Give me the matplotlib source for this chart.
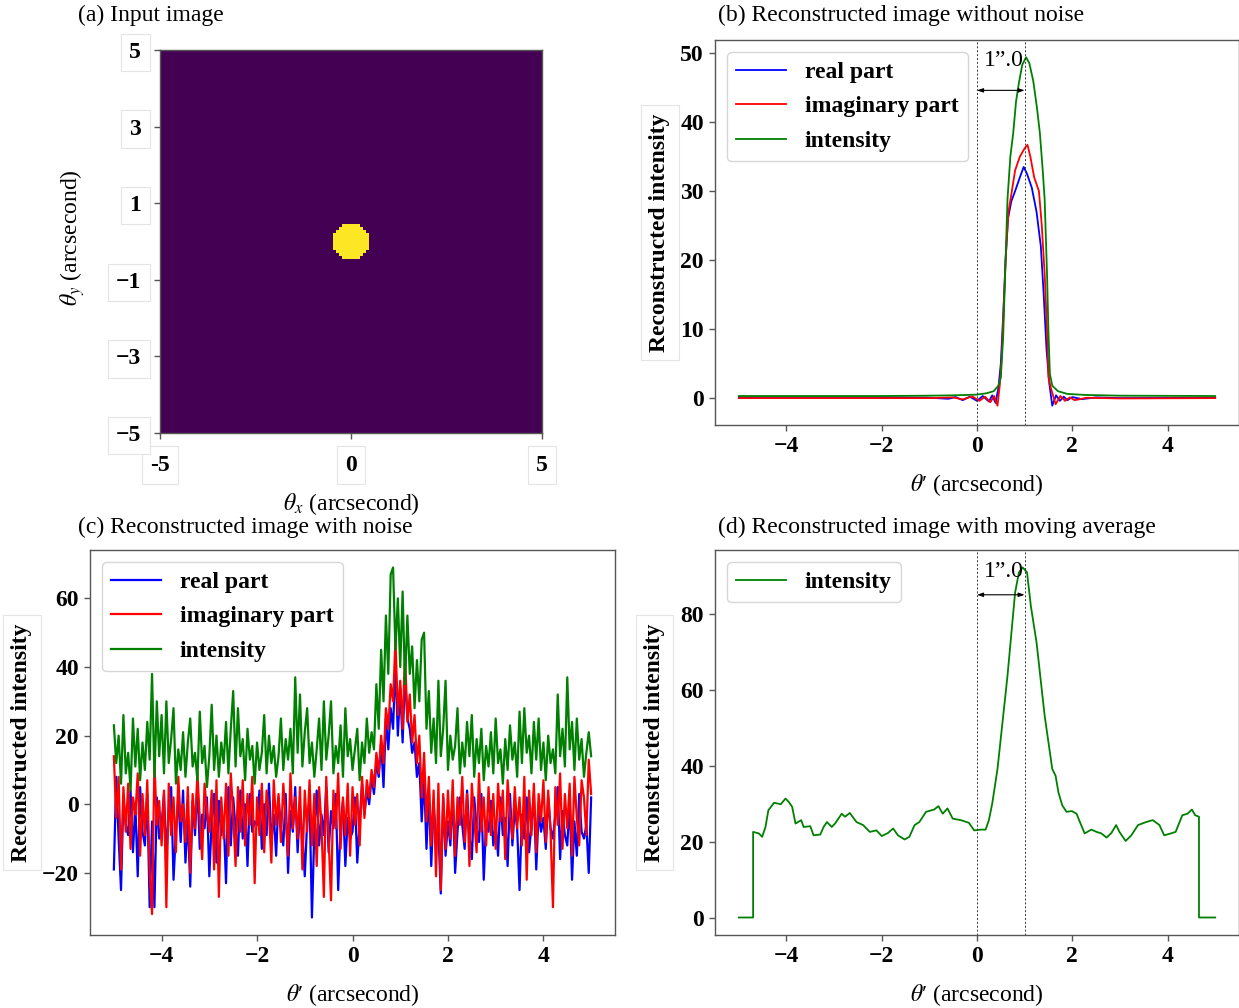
import numpy as np
import matplotlib
matplotlib.use("Agg")
import matplotlib.pyplot as plt

plt.rcParams['font.family'] = ['Liberation Serif', 'DejaVu Serif']
plt.rcParams['mathtext.fontset'] = 'stix'

# ---------------- data ----------------
# (a) input image: uniform disc source
grid_n = 128
src_center = (0.0, 0.0)      # arcsec
src_radius = 0.5             # arcsec
img_extent = [-5, 5, -5, 5]

# (b) reconstruction without noise
b_real_x = [-5.0, -2.0, -1.0, -0.6, -0.45, -0.3, -0.15, 0.0, 0.12, 0.25, 0.32, 0.39, 0.45, 0.5, 0.55,
            0.6, 0.65, 0.72, 0.8, 0.9, 0.98, 1.05, 1.15, 1.25, 1.34, 1.4, 1.46, 1.52, 1.58, 1.66,
            1.74, 1.82, 1.9, 2.0, 2.2, 2.5, 3.0, 5.0]
b_real_y = [0.1, 0.1, 0.05, -0.1, 0.15, -0.3, 0.2, -0.4, 0.3, -0.5, 0.4, -0.7, 1.5, 5, 12,
            20, 26, 28.5, 30, 32, 33.5, 32.5, 30.5, 27, 22, 15, 7, 2, -1.1, 0.4,
            -0.4, 0.2, -0.3, 0.15, -0.15, 0.1, 0.0, 0.05]
b_imag_x = [-5.0, -2.0, -1.0, -0.5, -0.3, -0.1, 0.05, 0.17, 0.28, 0.36, 0.43, 0.48, 0.52, 0.56, 0.6,
            0.66, 0.72, 0.8, 0.9, 1.0, 1.06, 1.12, 1.2, 1.3, 1.36, 1.42, 1.48, 1.5, 1.55, 1.65,
            1.75, 1.85, 1.95, 2.05, 2.3, 3.0, 5.0]
b_imag_y = [0.0, 0.0, 0.0, 0.1, -0.2, 0.25, -0.4, 0.2, -0.6, 0.3, -1.1, 2, 6, 13, 20,
            27, 29.5, 33, 35, 36.2, 36.7, 35, 32, 30, 25, 18, 8, 3, 1.5, -0.9,
            0.3, -0.4, 0.1, -0.3, 0.05, -0.05, 0.0]
b_int_x = [-5.0, -2.0, -1.0, -0.5, 0.0, 0.2, 0.35, 0.45, 0.5, 0.55, 0.6, 0.64, 0.7, 0.76, 0.82,
           0.88, 0.95, 1.03, 1.1, 1.18, 1.26, 1.32, 1.38, 1.42, 1.47, 1.5, 1.53, 1.58, 1.7, 1.9,
           2.3, 3.0, 5.0]
b_int_y = [0.3, 0.3, 0.35, 0.4, 0.5, 0.7, 1.0, 1.8, 3, 9, 20, 28.8, 35, 38.4, 43,
           45.7, 48.3, 49.4, 48.5, 46, 42, 38.4, 33, 28.8, 18, 9.5, 3.5, 1.8, 1.0, 0.6,
           0.45, 0.35, 0.3]

# (c) reconstruction with noise, sampled every 0.05 arcsec from -5 to 5
c_theta = np.linspace(-5, 5, 201)
c_real = [-19, 8, -10, -25, 2, -6, -9, 4, -14, 0, -21, 5, -8, -12, 3, -30, -5, -30, 2, -10,
          -6, 3, -15, -2, 5, -22, -8, 2, -11, 4, -17, -4, -24, 1, -9, 6, -13, -3, -7, 2,
          -21, -5, 3, -17, 1, -9, -4, -23, 5, -12, 2, -7, -15, 4, -10, 0, -18, 3, -8, -5,
          -6, 4, -13, 0, -9, 6, -11, -3, -15, 2, -7, -12, 3, -20, -2, -8, 5, -14, -1, -9,
          -21, -5, 2, -33, -8, 4, -12, -3, -9, 5, -14, -2, -7, 3, -25, -6, 1, -18, -4, -10,
          -8, 2, -17, -5, 6, -3, 4, 0, 8, 3, 12, 8, 18, 5, 25, 16, 28, 22, 42, 20,
          34, 18, 38, 25, 22, 15, 18, 8, 12, -5, 8, -13, 4, -18, 0, -10, -8, -26, 2, -15,
          -5, -12, 3, -20, -8, 2, -6, -13, 4, -9, -16, 2, -7, -11, 3, -22, -5, -8, 1, -12,
          -6, -15, 2, -9, -4, -18, 3, -12, -1, -7, -25, -3, -10, 2, -14, -6, 3, -19, -2, -8,
          -4, -13, 2, -7, -10, -3, 5, -16, -2, -9, -12, 1, -22, -5, -15, 3, -8, -10, -6, -20,
          2]
c_imag = [14, -4, 8, -19, 5, -8, 6, -13, 2, -3, 9, -15, 3, -9, 7, -20, -32, 12, -6, 1,
          -12, 4, -30, 6, -9, 2, -14, 8, -5, 0, -11, 5, -20, 3, -7, 9, -4, -16, 6, -2,
          -8, 4, -19, 7, -27, 2, -10, 6, -15, 9, -3, -18, 5, -8, 7, -12, 3, -6, 8, -23,
          2, -9, 6, -14, 4, -2, -17, 7, -6, 3, -11, 6, -4, -15, 9, -7, 2, -10, 5, -19,
          4, -8, 7, -12, 3, -18, 5, -6, -27, 8, -10, -28, 4, -7, 9, -13, 2, -9, 6, -15,
          5, -6, 3, -12, 8, -4, 7, 2, 10, 5, 15, 9, 20, 12, 28, 22, 35, 30, 48, 26,
          36, 22, 44, 24, 32, 18, 26, 12, 20, 2, 15, -5, 8, -12, 4, -21, 6, -25, 3, -13,
          4, -10, 7, -15, 2, -6, 8, -11, 3, -18, 6, -4, -14, 9, -8, 2, -12, 5, -9, 3,
          -13, 6, -5, 4, -16, 7, -3, -10, 5, -7, 2, -12, 8, -22, 4, -9, 6, -14, 3, -5,
          7, -11, 4, -8, -30, 5, -6, 9, -13, 3, -7, 6, -15, 8, -4, -12, 7, 2, -9, 13,
          3]
c_int = [23, 12, 20, 6, 26, 9, 15, 4, 25, 11, 22, 7, 18, 10, 24, 13, 38, 8, 30, 14,
         26, 9, 30, 12, 19, 28, 6, 16, 10, 21, 8, 18, 25, 11, 15, 7, 27, 12, 17, 5,
         14, 29, 10, 20, 8, 18, 12, 24, 9, 22, 33, 11, 28, 14, 19, 7, 22, 13, 17, 6,
         18, 10, 15, 26, 9, 20, 12, 17, 8, 14, 25, 10, 19, 13, 22, 9, 37, 15, 32, 11,
         21, 28, 12, 18, 8, 16, 25, 10, 30, 13, 20, 30, 9, 17, 12, 23, 8, 28, 14, 19,
         10, 16, 22, 7, 18, 12, 25, 15, 21, 16, 35, 22, 45, 30, 55, 38, 67, 69, 45, 60,
         40, 62, 35, 55, 38, 46, 28, 42, 30, 48, 50, 22, 33, 15, 25, 12, 36, 14, 22, 36,
         10, 20, 13, 17, 28, 9, 18, 11, 24, 14, 26, 8, 19, 12, 22, 7, 17, 11, 21, 9,
         25, 12, 16, 6, 19, 10, 23, 13, 18, 8, 27, 12, 28, 15, 20, 9, 24, 13, 25, 10,
         18, 7, 20, 12, 16, 9, 32, 14, 22, 11, 37, 16, 24, 10, 25, 13, 19, 8, 15, 21,
         14]

# (d) moving average of the noisy intensity
d_x = [-5.0, -4.70, -4.70, -4.58, -4.51, -4.44, -4.38, -4.26, -4.12, -4.02, -3.95, -3.88, -3.81,
       -3.69, -3.64, -3.50, -3.43, -3.29, -3.22, -3.15, -3.05, -2.98, -2.84, -2.77, -2.67, -2.53,
       -2.39, -2.25, -2.11, -2.00, -1.87, -1.76, -1.66, -1.52, -1.42, -1.31, -1.21, -1.07, -0.90,
       -0.81, -0.72, -0.62, -0.51, -0.34, -0.17, -0.06, 0.08, 0.18, 0.25, 0.32, 0.43, 0.64, 0.80,
       0.88, 0.96, 1.05, 1.13, 1.25, 1.42, 1.58, 1.65, 1.71, 1.79, 1.88, 1.99, 2.09, 2.16, 2.26,
       2.40, 2.51, 2.61, 2.72, 2.82, 2.92, 2.99, 3.12, 3.24, 3.38, 3.55, 3.69, 3.83, 3.93, 4.07,
       4.17, 4.31, 4.42, 4.51, 4.58, 4.66, 4.66, 5.0]
d_y = [0, 0, 22.6, 22.2, 21.3, 23.9, 28.3, 30.3, 29.9, 31.4, 30.5, 29.2, 24.8,
       25.7, 23.9, 24.1, 21.7, 21.9, 23.9, 25.2, 23.9, 24.8, 27.4, 26.6, 27.6, 25.2,
       24.4, 22.6, 23.0, 21.5, 22.3, 23.5, 21.7, 20.6, 21.3, 24.4, 25.2, 27.9, 28.5,
       29.4, 27.4, 28.8, 26.1, 25.7, 25.0, 23.0, 23.2, 23.2, 25.7, 30.1, 39.2, 63.8, 85.8,
       91.1, 92.4, 91.1, 82.3, 72.6, 53.3, 39.2, 37.4, 33.0, 29.6, 27.9, 28.1, 27.4, 25.2, 22.2,
       23.2, 22.6, 22.2, 21.1, 22.3, 24.4, 22.6, 20.2, 21.7, 24.4, 25.2, 25.7, 24.4, 21.7, 22.2,
       22.6, 27.0, 27.4, 28.5, 27.0, 26.6, 0, 0]

shift_mark = [0.0, 1.0]      # dotted guide lines (arcsec)

# ---------------- figure ----------------
W, H = 1239, 1008
fig = plt.figure(figsize=(W / 100, H / 100), dpi=100)

def px_axes(l, t, r, b):
    return fig.add_axes([l / W, 1 - b / H, (r - l) / W, (b - t) / H])

spine_c = '#555555'
box = dict(boxstyle='square,pad=0.35', fc='white', ec='#e4e4e4', lw=0.8)

def style(ax):
    for s in ax.spines.values():
        s.set_color(spine_c)
        s.set_linewidth(1.0)
    ax.tick_params(labelsize=17, color=spine_c, length=4.5, width=1.0)
    for lab in ax.get_xticklabels() + ax.get_yticklabels():
        lab.set_fontweight('bold')

def ylab(ax, xpos):
    ax.set_ylabel('Reconstructed intensity', fontsize=17, fontweight='bold')
    ax.yaxis.set_label_coords(xpos, 0.5)
    ax.yaxis.label.set_bbox(box)

def xlab(ax):
    ax.set_xlabel("$\\theta$\u2032 (arcsecond)", fontsize=17, labelpad=11)

def mark(ax, y_arrow, y_text):
    for xv in shift_mark:
        ax.axvline(xv, color='#333333', lw=0.7, ls=(0, (2, 2)))
    ax.annotate('', xy=(shift_mark[0], y_arrow), xytext=(shift_mark[1], y_arrow),
                arrowprops=dict(arrowstyle='<|-|>,head_length=0.35,head_width=0.12',
                                color='black', lw=0.8, shrinkA=0, shrinkB=0))
    ax.text(0.57, y_text, '1\u201d.0', fontsize=17, ha='center', va='center')

# (a)
ax_a = px_axes(160, 50, 542, 433)
yy, xx = np.meshgrid(np.linspace(5, -5, grid_n), np.linspace(-5, 5, grid_n), indexing='ij')
source = ((xx - src_center[0]) ** 2 + (yy - src_center[1]) ** 2 <= src_radius ** 2).astype(float)
ax_a.imshow(source, cmap='viridis', extent=img_extent, aspect='auto', interpolation='nearest')
ax_a.set_xticks([-5, 0, 5])
ax_a.set_xticklabels(['-5', '0', '5'])
ax_a.set_yticks([5, 3, 1, -1, -3, -5])
ax_a.set_yticklabels(['5', '3', '1', '\u22121', '\u22123', '\u22125'])
style(ax_a)
ax_a.tick_params(axis='x', pad=11)
ax_a.tick_params(axis='y', pad=9)
for lab in ax_a.get_xticklabels() + ax_a.get_yticklabels():
    lab.set_bbox(box)
ax_a.set_xlabel(r'$\theta_x$ (arcsecond)', fontsize=17, labelpad=11)
ax_a.set_ylabel(r'$\theta_y$ (arcsecond)', fontsize=17)
ax_a.yaxis.set_label_coords(-0.19, 0.51)

# (b)
ax_b = px_axes(715, 40, 1239, 425)
ax_b.plot(b_real_x, b_real_y, color='blue', lw=1.3, label='real part')
ax_b.plot(b_imag_x, b_imag_y, color='red', lw=1.3, label='imaginary part')
ax_b.plot(b_int_x, b_int_y, color='green', lw=1.3, label='intensity')
ax_b.set_xlim(-5.5, 5.5)
ax_b.set_ylim(-3.9, 51.9)
style(ax_b)
ylab(ax_b, -0.085)
xlab(ax_b)
mark(ax_b, 44.6, 49.0)

# (c)
ax_c = px_axes(90, 550, 615, 935)
ax_c.plot(c_theta, c_real, color='blue', lw=1.6, label='real part')
ax_c.plot(c_theta, c_imag, color='red', lw=1.6, label='imaginary part')
ax_c.plot(c_theta, c_int, color='green', lw=1.6, label='intensity')
ax_c.set_xlim(-5.5, 5.5)
style(ax_c)
ylab(ax_c, -0.11)
xlab(ax_c)

# (d)
ax_d = px_axes(715, 550, 1239, 935)
ax_d.plot(d_x, d_y, color='green', lw=1.3, label='intensity')
ax_d.set_xlim(-5.5, 5.5)
ax_d.set_yticks([0, 20, 40, 60, 80])
style(ax_d)
ylab(ax_d, -0.095)
xlab(ax_d)
mark(ax_d, 85.2, 91.3)

for ax in (ax_b, ax_c, ax_d):
    ax.legend(loc='upper left', prop={'weight': 'bold', 'size': 17},
              handlelength=2.1, handletextpad=0.8, labelspacing=0.55)

# panel titles
titles = ['(a) Input image', '(b) Reconstructed image without noise',
          '(c) Reconstructed image with noise', '(d) Reconstructed image with moving average']
title_pos = [(78, 15), (718, 15), (78, 527), (718, 527)]
for t, (x, y) in zip(titles, title_pos):
    fig.text(x / W, 1 - y / H, t, fontsize=17, ha='left', va='center')

fig.savefig('out.png', dpi=100)
